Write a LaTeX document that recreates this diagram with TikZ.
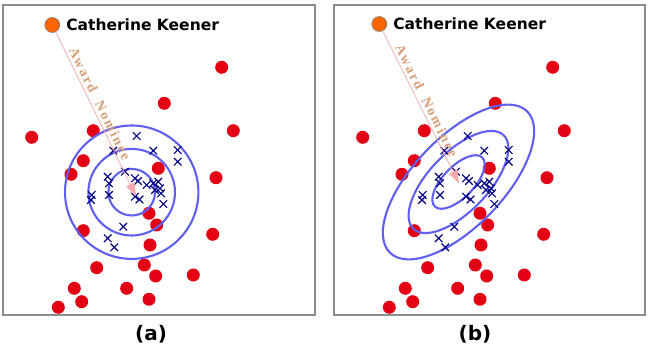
\documentclass[tikz,border=0pt]{standalone}
\usepackage{fontspec}
\usepackage{tikz}
\usepackage{xcolor}
\usetikzlibrary{arrows.meta,positioning,shapes.misc}
\setmainfont{DejaVu Sans}
\newfontfamily\awardfont{Liberation Serif}[LetterSpace=14]
\definecolor{dotred}{RGB}{228,0,20}
\definecolor{actororange}{RGB}{255,102,0}
\definecolor{navyx}{RGB}{0,0,128}
\definecolor{contourblue}{RGB}{95,95,240}
\definecolor{linepink}{RGB}{245,165,165}
\definecolor{headpink}{RGB}{250,170,170}
\definecolor{labeltan}{RGB}{215,158,118}
\definecolor{framegray}{RGB}{140,140,140}
\newcommand{\reddots}{221.7/67.3, 164.3/103.3, 233.3/130.7, 31.7/137.3, 93.3/130.7, 83.3/160.7, 71/174.3, 158.3/168.3, 216/177.7, 149/213.3, 156.7/225, 83.3/230.7, 212.7/234.3, 150/245, 96.7/267.7, 144.3/265, 155.7/276, 193.3/275, 74.3/288.3, 126.7/288.3, 81.7/301.7, 149/299.3, 58.3/307.3}
\newcommand{\xmarks}{136.7/136, 113.3/150.7, 153.3/150.7, 177.7/150, 177.7/161.7, 125/171.7, 135/178.3, 138/181, 107.7/176.7, 109/183.3, 146.7/185, 153.3/183.3, 158.3/181.7, 160/188.3, 155/190, 161/193.3, 91.7/195, 91/200, 109/195, 135/196.7, 139.5/199.5, 163.3/204, 123.3/226.7, 107.7/238.3, 114.3/247.3}

\begin{document}
\begin{tikzpicture}[x=1pt, y=-1pt, every node/.style={inner sep=0pt},
  frame/.style={draw=framegray, line width=1.6pt},
  reddot/.style={circle, fill=dotred, minimum size=13pt},
  actordot/.style={circle, fill=actororange, draw=gray, line width=0.6pt, minimum size=15pt},
  xmark/.style={cross out, draw=navyx, line width=1.1pt, minimum size=6.5pt},
  contour/.style={draw=contourblue, line width=2.1pt},
  nomline/.style={draw=linepink, line width=0.7pt, -{Triangle[length=13pt, width=9pt, color=headpink]}},
  nomlabel/.style={text=labeltan, font=\awardfont\bfseries\fontsize{14}{14}\selectfont},
  namelabel/.style={font=\bfseries\fontsize{15.5}{16}\selectfont},
  panellabel/.style={font=\bfseries\fontsize{20}{22}\selectfont}]
  \useasboundingbox (0,0) rectangle (649,350);

  % panel (a)
  \draw[frame] (3,5) rectangle (315,315);
  \foreach \px/\py [count=\i] in \reddots
    \node[reddot] (ra\i) at (\px,\py) {};
  \coordinate (ctrA) at (131.7,192.2);
  \foreach \r in {23.3,43.3,66.7}
    \draw[contour] (ctrA) circle [radius=\r];
  \foreach \px/\py [count=\i] in \xmarks
    \node[xmark] (xa\i) at (\px,\py) {};
  \coordinate (tipA) at (136,196);
  \node[actordot] (actorA) at (52.3,25) {};
  \node[namelabel, right=6pt of actorA] (nameA) {Catherine Keener};
  \draw[nomline] (actorA) -- (tipA) node[nomlabel, pos=0.46, sloped, above=3pt] (nomA) {Award\ \ Nominee};
  \node[panellabel] (capA) at (151,334) {(a)};

  % panel (b)
  \draw[frame] (334,5) rectangle (645,315);
  \begin{scope}[xshift=331pt]
    \foreach \px/\py [count=\i] in \reddots
      \node[reddot] (rb\i) at (\px,\py) {};
  \end{scope}
  \coordinate (ctrB) at (458.5,182);
  \foreach \a/\b in {34.1/15.5, 65/29.5, 98.5/44.8}
    \draw[contour, rotate around={46:(ctrB)}] (ctrB) ellipse [x radius=\a, y radius=\b];
  \begin{scope}[xshift=331pt]
    \foreach \px/\py [count=\i] in \xmarks
      \node[xmark] (xb\i) at (\px,\py) {};
  \end{scope}
  \coordinate (tipB) at (459,183.5);
  \node[actordot] (actorB) at (379.3,24) {};
  \node[namelabel, right=6pt of actorB] (nameB) {Catherine Keener};
  \draw[nomline] (actorB) -- (tipB) node[nomlabel, pos=0.48, sloped, above=3pt] (nomB) {Award\ \ Nominee};
  \node[panellabel] (capB) at (475,334) {(b)};
\end{tikzpicture}
\end{document}
